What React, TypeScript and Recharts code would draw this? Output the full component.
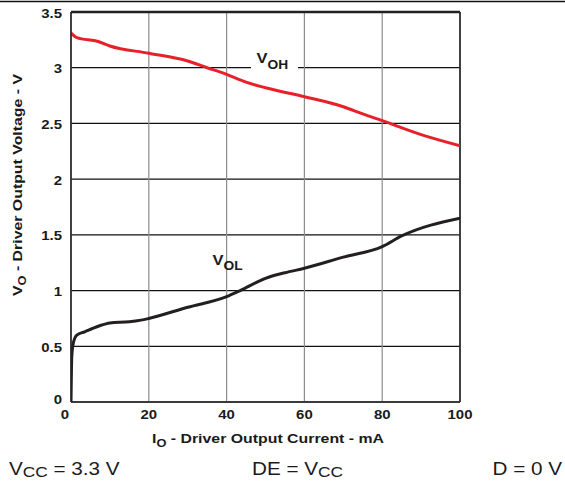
import React from 'react';
import { LineChart, Line, XAxis, YAxis, CartesianGrid, ReferenceLine } from 'recharts';

// Driver output current (mA) and output voltage (V) for each curve
const ohCurrent = [0, 1.5, 7, 10, 20, 30, 35, 40, 45, 50, 60, 70, 75, 80, 90, 100];
const ohVoltage = [3.31, 3.27, 3.235, 3.195, 3.13, 3.06, 3.0, 2.94, 2.87, 2.82, 2.74, 2.65, 2.585, 2.525, 2.4, 2.3];

const olCurrent = [0, 0.2, 0.6, 1.5, 3.5, 7, 10, 15, 18, 20, 30, 40, 43.5, 50, 55, 60, 70, 80, 85, 100];
const olVoltage = [0, 0.41, 0.53, 0.6, 0.63, 0.68, 0.71, 0.72, 0.735, 0.75, 0.85, 0.945, 1.0, 1.11, 1.16, 1.2, 1.3, 1.395, 1.49, 1.65];

const xTicks = [0, 20, 40, 60, 80, 100];
const yTicks = [0, 0.5, 1, 1.5, 2, 2.5, 3, 3.5];

const ohData = ohCurrent.map((i, k) => ({ i, v: ohVoltage[k] }));
const olData = olCurrent.map((i, k) => ({ i, v: olVoltage[k] }));

const FONT = '"Liberation Sans", Arial, Helvetica, sans-serif';
const INK = '#1a1a1a';
const STRETCH = 1.2;

type WideProps = {
  x: number;
  y: number;
  sx?: number;
  rotate?: number;
  anchor?: 'start' | 'middle' | 'end';
  size: number;
  bold?: boolean;
  children: React.ReactNode;
};

// Horizontally widened text, anchored at (x, y)
function Wide({ x, y, sx = STRETCH, rotate = 0, anchor = 'start', size, bold, children }: WideProps) {
  return (
    <g transform={`translate(${x},${y}) rotate(${rotate}) scale(${sx},1)`}>
      <text
        x={0}
        y={0}
        textAnchor={anchor}
        fontFamily={FONT}
        fontSize={size}
        fontWeight={bold ? 700 : 400}
        fill={INK}
      >
        {children}
      </text>
    </g>
  );
}

const XTick = (props: any) => {
  const { x, y, payload } = props;
  const dx = payload.value === 0 ? -6 : 0;
  return (
    <Wide x={x + dx} y={y + 17} anchor="middle" size={13} bold sx={1.15}>
      {payload.value}
    </Wide>
  );
};

const YTick = (props: any) => {
  const { x, y, payload } = props;
  const dy = payload.value === 0 ? 1.5 : 5.5;
  return (
    <Wide x={x - 9} y={y + dy} anchor="end" size={13} bold sx={1.15}>
      {payload.value}
    </Wide>
  );
};

export default function App() {
  return (
    <div style={{ position: 'absolute', left: 0, top: 0, width: 565, height: 483, background: '#fff' }}>
      <LineChart
        width={565}
        height={483}
        margin={{ top: 12, right: 105, bottom: 51, left: 0 }}
      >
        <CartesianGrid horizontal vertical={false} stroke="#111" strokeWidth={1.2} />
        <CartesianGrid horizontal={false} vertical stroke="#8c8c8c" strokeWidth={1.2} />
        <XAxis
          type="number"
          dataKey="i"
          domain={[0, 100]}
          ticks={xTicks}
          height={30}
          tickSize={0}
          tickMargin={0}
          tickLine={false}
          axisLine={{ stroke: '#222', strokeWidth: 1.6 }}
          tick={<XTick />}
          allowDataOverflow
        />
        <YAxis
          type="number"
          dataKey="v"
          domain={[0, 3.5]}
          ticks={yTicks}
          width={71}
          tickSize={0}
          tickMargin={0}
          tickLine={false}
          axisLine={{ stroke: '#222', strokeWidth: 1.6 }}
          tick={<YTick />}
          allowDataOverflow
        />
        <ReferenceLine y={3.5} stroke="#222" strokeWidth={2.5} />
        <ReferenceLine x={100} stroke="#222" strokeWidth={1.6} />
        <Line
          data={ohData}
          dataKey="v"
          type="monotone"
          stroke="#e8202a"
          strokeWidth={3}
          dot={false}
          isAnimationActive={false}
        />
        <Line
          data={olData}
          dataKey="v"
          type="monotone"
          stroke="#231f20"
          strokeWidth={3}
          dot={false}
          isAnimationActive={false}
        />
      </LineChart>

      <svg
        width={565}
        height={483}
        style={{ position: 'absolute', left: 0, top: 0, pointerEvents: 'none' }}
      >
        <line x1={0} y1={1.5} x2={565} y2={1.5} stroke="#111" strokeWidth={1.6} />

        {/* curve labels */}
        <rect x={251} y={50} width={47} height={22} fill="#fff" />
        <Wide x={256.5} y={62.7} size={15} bold sx={1.1}>
          V
          <tspan fontSize={12.5} dy={6.6}>OH</tspan>
        </Wide>
        <Wide x={212.5} y={264.5} size={15} bold sx={1.1}>
          V
          <tspan fontSize={12.5} dy={5}>OL</tspan>
        </Wide>

        {/* axis titles */}
        <Wide x={22} y={185} rotate={-90} anchor="middle" size={13} bold sx={1.22}>
          V
          <tspan fontSize={10.5} dy={4}>O</tspan>
          <tspan dy={-4}> - Driver Output Voltage - V</tspan>
        </Wide>
        <Wide x={268} y={443} anchor="middle" size={13} bold sx={1.22}>
          I
          <tspan fontSize={10.5} dy={4}>O</tspan>
          <tspan dy={-4}> - Driver Output Current - mA</tspan>
        </Wide>

        {/* test conditions */}
        <Wide x={9} y={474.5} size={18} sx={1.15}>
          V
          <tspan fontSize={15} dy={2.5}>CC</tspan>
          <tspan dy={-2.5}> = 3.3 V</tspan>
        </Wide>
        <Wide x={252} y={474.5} size={18} sx={1.15}>
          DE = V
          <tspan fontSize={15} dy={2.5}>CC</tspan>
        </Wide>
        <Wide x={562} y={474.5} anchor="end" size={18} sx={1.15}>
          D = 0 V
        </Wide>
      </svg>
    </div>
  );
}
